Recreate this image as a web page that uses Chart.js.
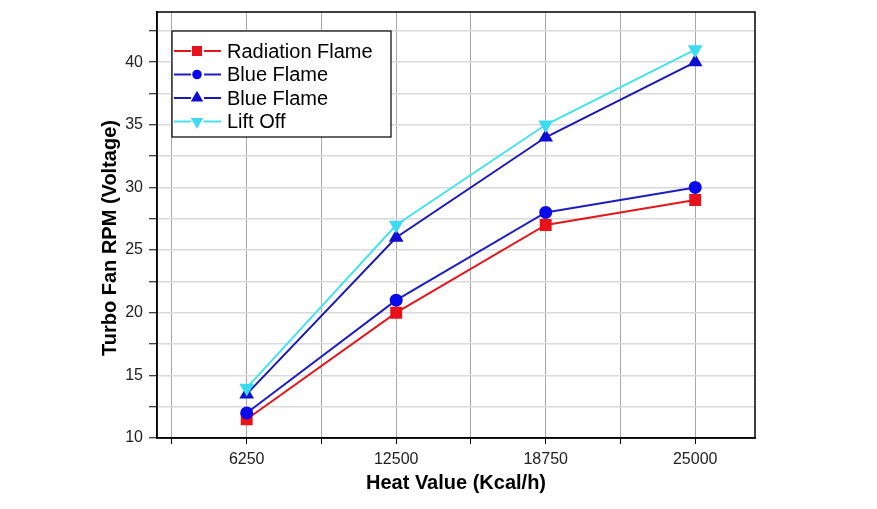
<!DOCTYPE html>
<html>
<head>
<meta charset="utf-8">
<script src="https://cdn.jsdelivr.net/npm/chart.js@4.4.0/dist/chart.umd.min.js"></script>
<style>
	html, body { margin: 0; padding: 0; background: #fff; }
	#chart { display: block; }
</style>
</head>
<body>
<canvas id="chart" width="877" height="509"></canvas>
<script>
const heatValues = [6250, 12500, 18750, 25000];
const radiationFlame = [11.5, 20, 27, 29];
const blueFlameCircle = [12, 21, 28, 30];
const blueFlameTriangle = [13.5, 26, 34, 40];
const liftOff = [14, 27, 35, 41];

const xTickValues = [3125, 6250, 9375, 12500, 15625, 18750, 21875, 25000];
const yTickValues = [10, 12.5, 15, 17.5, 20, 22.5, 25, 27.5, 30, 32.5, 35, 37.5, 40, 42.5];
const yTitle = 'Turbo Fan RPM (Voltage)';

const FONT = '"Liberation Sans", Arial, sans-serif';

function toPoints(values) {
	return values.map((v, i) => ({ x: heatValues[i], y: v }));
}

// white legend box with a black frame, drawn inside the plot area
const legendInside = {
	id: 'legendInside',
	afterDatasetsDraw(chart) {
		const { ctx, chartArea } = chart;
		const x0 = chartArea.left + 15;
		const y0 = chartArea.top + 19;
		const w = 219, h = 106;
		const legendRadius = { rect: 5.7, circle: 3.8, triangle: 5.2 };
		ctx.save();
		ctx.fillStyle = '#fff';
		ctx.fillRect(x0, y0, w, h);
		ctx.strokeStyle = '#000';
		ctx.lineWidth = 1.2;
		ctx.strokeRect(x0, y0, w, h);
		chart.data.datasets.forEach((ds, i) => {
			const cy = y0 + 20 + i * 23.5;
			ctx.strokeStyle = ds.borderColor;
			ctx.lineWidth = 2;
			ctx.beginPath();
			ctx.moveTo(x0 + 2, cy);
			ctx.lineTo(x0 + 19, cy);
			ctx.moveTo(x0 + 32, cy);
			ctx.lineTo(x0 + 49, cy);
			ctx.stroke();
			ctx.fillStyle = ds.pointBackgroundColor;
			ctx.strokeStyle = ds.pointBorderColor;
			Chart.helpers.drawPoint(ctx, {
				pointStyle: ds.pointStyle,
				rotation: ds.pointRotation || 0,
				radius: legendRadius[ds.pointStyle],
				borderWidth: 1
			}, x0 + 25, cy);
			ctx.fillStyle = '#000';
			ctx.font = '20px ' + FONT;
			ctx.textBaseline = 'middle';
			ctx.textAlign = 'left';
			ctx.fillText(ds.label, x0 + 55, cy + 1);
		});
		ctx.restore();
	}
};

const plotFrame = {
	id: 'plotFrame',
	afterDraw(chart) {
		const { ctx, chartArea } = chart;
		ctx.save();
		ctx.strokeStyle = '#000';
		ctx.lineWidth = 1.5;
		ctx.strokeRect(chartArea.left, chartArea.top, chartArea.right - chartArea.left, chartArea.bottom - chartArea.top);
		// y axis title, sits a bit below the middle of the plot in the original
		ctx.translate(chartArea.left - 47, (chartArea.top + chartArea.bottom) / 2 + 13);
		ctx.rotate(-Math.PI / 2);
		ctx.fillStyle = '#000';
		ctx.font = 'bold 20px ' + FONT;
		ctx.textAlign = 'center';
		ctx.textBaseline = 'middle';
		ctx.fillText(yTitle, 0, 0);
		ctx.restore();
	}
};

const ctx = document.getElementById('chart').getContext('2d');
new Chart(ctx, {
	type: 'line',
	data: {
		datasets: [
			{
				label: 'Radiation Flame',
				data: toPoints(radiationFlame),
				borderColor: '#e3181c',
				pointBackgroundColor: '#e8121a',
				pointBorderColor: '#e8121a',
				pointStyle: 'rect',
				pointRadius: 7,
				borderWidth: 2,
				order: 4
			},
			{
				label: 'Blue Flame',
				data: toPoints(blueFlameCircle),
				borderColor: '#1f1fbf',
				pointBackgroundColor: '#0a0ae8',
				pointBorderColor: '#0a0ae8',
				pointStyle: 'circle',
				pointRadius: 5.5,
				borderWidth: 2,
				order: 3
			},
			{
				label: 'Blue Flame',
				data: toPoints(blueFlameTriangle),
				borderColor: '#1a1ab2',
				pointBackgroundColor: '#0f0fd2',
				pointBorderColor: '#0f0fd2',
				pointStyle: 'triangle',
				pointRadius: 6.5,
				borderWidth: 2,
				order: 2
			},
			{
				label: 'Lift Off',
				data: toPoints(liftOff),
				borderColor: '#46e2ec',
				pointBackgroundColor: '#3cdcf0',
				pointBorderColor: '#3cdcf0',
				pointStyle: 'triangle',
				pointRotation: 180,
				pointRadius: 6.5,
				borderWidth: 2,
				order: 1
			}
		]
	},
	options: {
		responsive: false,
		animation: false,
		devicePixelRatio: 1,
		layout: {
			padding: { top: 12, right: 122, bottom: 0, left: 0 }
		},
		plugins: {
			legend: { display: false },
			tooltip: { enabled: false }
		},
		scales: {
			x: {
				type: 'linear',
				min: 2500,
				max: 27500,
				afterBuildTicks: scale => {
					scale.ticks = xTickValues.map(v => ({ value: v }));
				},
				afterFit: scale => {
					scale.height = 71;
					scale.paddingLeft = 0;
					scale.paddingRight = 0;
				},
				ticks: {
					autoSkip: false,
					maxRotation: 0,
					padding: 6,
					color: '#222',
					font: { family: FONT, size: 16 },
					callback: v => (v % 6250 === 0 ? String(v) : '')
				},
				grid: {
					color: '#a8a8a8',
					lineWidth: 1,
					tickLength: 6,
					tickColor: '#000',
					tickWidth: 1
				},
				border: { color: '#000', width: 1.5 },
				title: {
					display: true,
					text: 'Heat Value (Kcal/h)',
					color: '#000',
					font: { family: FONT, size: 20, weight: 'bold' },
					padding: { top: 0, bottom: 14 }
				}
			},
			y: {
				type: 'linear',
				min: 10,
				max: 44,
				afterBuildTicks: scale => {
					scale.ticks = yTickValues.map(v => ({ value: v }));
				},
				afterFit: scale => {
					scale.width = 157;
					scale.paddingTop = 0;
					scale.paddingBottom = 0;
				},
				ticks: {
					padding: 6,
					color: '#222',
					font: { family: FONT, size: 16 },
					callback: v => (v % 5 === 0 ? String(v) : '')
				},
				grid: {
					color: '#dadada',
					lineWidth: 1.5,
					tickLength: 8,
					tickColor: '#000',
					tickWidth: 1
				},
				border: { color: '#000', width: 1.5 }
			}
		}
	},
	plugins: [legendInside, plotFrame]
});
</script>
</body>
</html>
